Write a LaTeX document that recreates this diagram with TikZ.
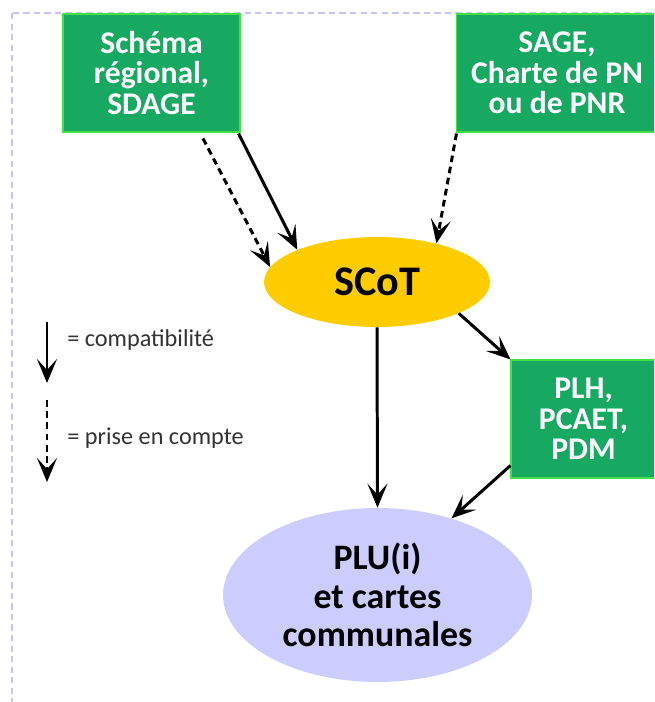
\documentclass[tikz,border=0pt]{standalone}
\usepackage{fontspec}
\setmainfont{Carlito}
\usetikzlibrary{shapes.geometric,arrows.meta}
\definecolor{docgreen}{HTML}{17A862}
\definecolor{docedge}{HTML}{44E044}
\definecolor{scotgold}{HTML}{FFCC00}
\definecolor{plulav}{HTML}{CCCCFF}
\definecolor{framelav}{HTML}{C4C4F6}
\definecolor{legendgrey}{HTML}{333333}
\tikzstyle{doc} = [draw=docedge, line width=0.6pt, fill=docgreen, text=white, align=center, inner sep=0pt, font=\fontsize{18}{17.3}\selectfont\bfseries]
\tikzstyle{plan} = [ellipse, inner sep=0pt, align=center]
\tikzstyle{compat} = [line width=1.7pt, -{Stealth[length=0.48cm, width=0.4cm, inset=0.22cm]}]
\tikzstyle{prise} = [compat, dash pattern=on 3.8pt off 2.6pt]
\tikzstyle{legend} = [anchor=west, inner sep=0pt, text=legendgrey, font=\fontsize{13.8}{16}\selectfont]

\begin{document}
\begin{tikzpicture}[x=0.02cm, y=-0.02cm]
	\useasboundingbox (0,0) rectangle (654,702);
	\clip (0,0) rectangle (654,702);
	\draw[framelav, line width=1.5pt, dash pattern=on 3.6pt off 2.4pt] (12,13) rectangle (680,740);
	% documents de rang superieur
	\node[doc, minimum width=3.54cm, minimum height=2.36cm] (sdage) at (151.5,73) {Schéma\\régional,\\SDAGE};
	\node[doc, minimum width=4.04cm, minimum height=2.36cm] (pnr) at (557,73) {SAGE,\\Charte de PN\\ou de PNR};
	\node[plan, fill=scotgold, minimum width=4.52cm, minimum height=1.8cm, font=\fontsize{24}{26}\selectfont\bfseries] (scot) at (377,282) {SCoT};
	\node[doc, minimum width=2.9cm, minimum height=2.36cm] (plh) at (583.5,419) {PLH,\\PCAET,\\PDM};
	\node[plan, fill=plulav, minimum width=6.18cm, minimum height=3.48cm, font=\fontsize{20.4}{21.8}\selectfont\bfseries] (plu) at (377.5,595) {PLU(i)\\et cartes\\communales};
	% liens
	\draw[prise] ([xshift=1.03cm, yshift=-0.12cm]sdage.south) -- (scot.172);
	\draw[compat] ([xshift=-0.04cm, yshift=-0.02cm]sdage.south east) -- (scot.158);
	\draw[prise] ([xshift=0.02cm, yshift=-0.02cm]pnr.south west) -- (scot.33);
	\draw[compat] (scot.-21) -- (plh.north west);
	\draw[compat] (scot.south) -- (plu.north);
	\draw[compat] ([yshift=0.26cm]plh.south west) -- (plu.46);
	% legende
	\coordinate (c1) at (47,322);
	\coordinate (c2) at (47,383);
	\coordinate (p1) at (47,400);
	\coordinate (p2) at (47,482);
	\draw[compat] (c1) -- (c2);
	\draw[prise] (p1) -- (p2);
	\node[legend] (lc) at (67,340) {= compatibilité};
	\node[legend] (lp) at (67,438) {= prise en compte};
\end{tikzpicture}
\end{document}
